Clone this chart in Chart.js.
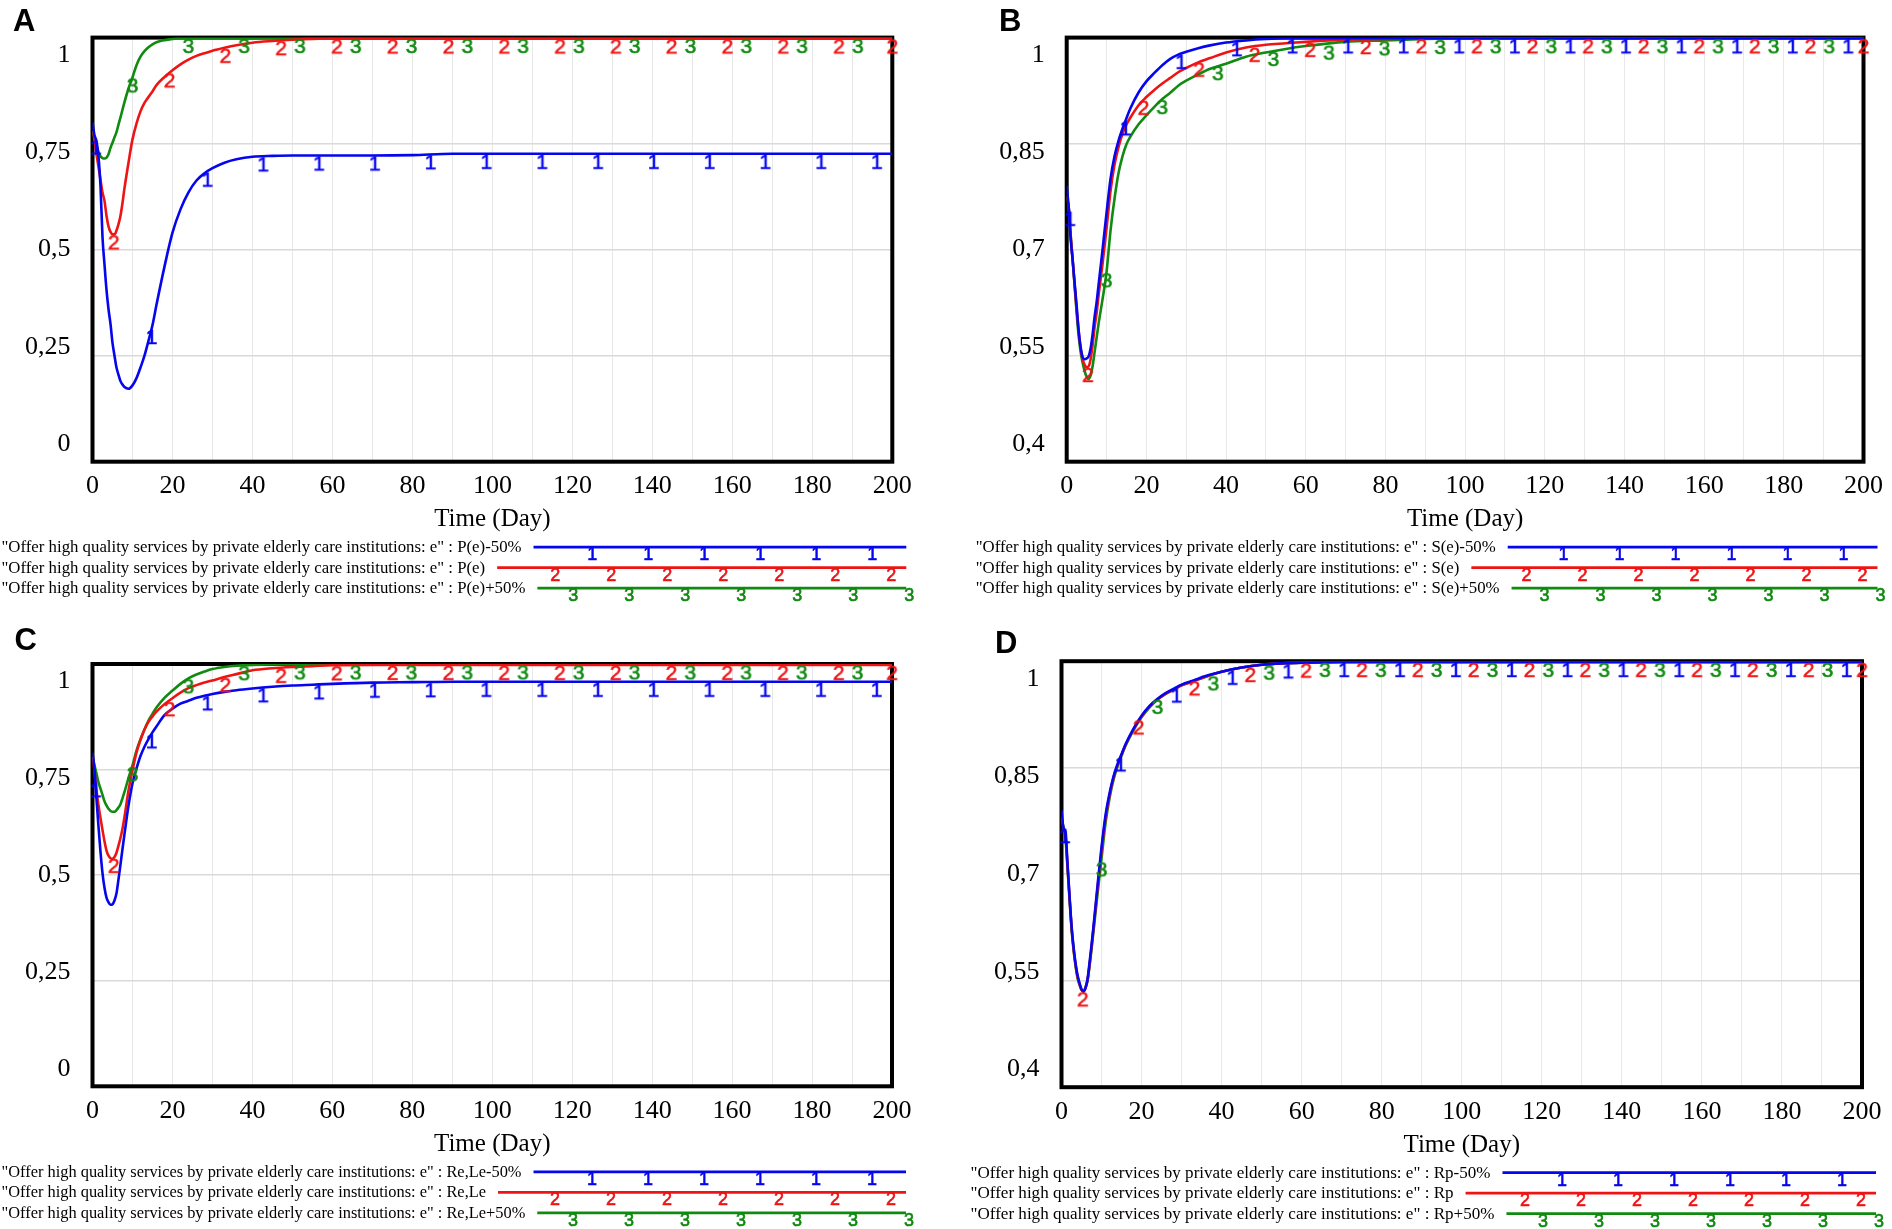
<!DOCTYPE html>
<html>
<head>
<meta charset="utf-8">
<script src="https://cdn.jsdelivr.net/npm/chart.js@4.4.1/dist/chart.umd.min.js"></script>
<style>
html,body{margin:0;padding:0;background:#fff;}
#wrap{position:relative;width:1892px;height:1229px;overflow:hidden;background:#fff;}
canvas{position:absolute;display:block;}
</style>
</head>
<body>
<div id="wrap">
<canvas id="cA" width="946" height="614" style="left:0;top:0"></canvas>
<canvas id="cB" width="946" height="614" style="left:946px;top:0"></canvas>
<canvas id="cC" width="946" height="615" style="left:0;top:614px"></canvas>
<canvas id="cD" width="946" height="615" style="left:946px;top:614px"></canvas>
</div>
<script>
// ---------- data ----------
const T = [0,0.5,1,1.5,2,2.5,3,3.5,4,4.5,5,5.5,6,6.5,7,7.5,8,9,10,11,12,13,14,15,16,18,20,22,24,26,28,30,33,36,40,45,50,55,60,70,80,90,100,120,140,160,180,200];

const aMinus = [0.80,0.77,0.755,0.72,0.65,0.53,0.465,0.405,0.36,0.325,0.28,0.25,0.222,0.205,0.19,0.182,0.176,
  0.172,0.18,0.197,0.222,0.25,0.285,0.322,0.37,
  0.46,0.54,0.595,0.635,0.663,0.68,0.692,
  0.705,0.713,0.719,0.721,0.722,0.722,0.722,
  0.722,0.723,0.726,0.726,0.726,0.726,0.726,0.726,0.726];
const aBase = [0.78,0.76,0.725,0.695,0.665,0.635,0.615,0.58,0.555,0.542,0.536,0.536,0.545,0.56,0.58,0.61,0.645,
  0.705,0.76,0.797,0.826,0.846,0.86,0.873,0.888,
  0.907,0.923,0.937,0.948,0.957,0.963,0.969,
  0.976,0.982,0.988,0.992,0.995,0.997,0.998,
  0.998,0.998,0.998,0.998,0.998,0.998,0.998,0.998,0.998];
const aPlus = [0.78,0.76,0.745,0.73,0.72,0.716,0.715,0.717,0.725,0.74,0.752,0.765,0.777,0.795,0.812,0.83,0.848,
  0.88,0.906,0.935,0.955,0.968,0.977,0.984,0.989,
  0.994,0.997,0.999,0.999,0.999,0.999,0.999,
  0.999,0.999,0.999,0.999,0.999,0.999,0.999,
  0.999,0.999,0.999,0.999,0.999,0.999,0.999,0.999,0.999];

const bMinus = [0.79,0.76,0.715,0.685,0.652,0.62,0.585,0.562,0.548,0.545,0.546,0.549,0.56,0.58,0.605,0.625,0.65,
  0.70,0.752,0.80,0.832,0.854,0.871,0.886,0.90,
  0.922,0.938,0.95,0.961,0.97,0.976,0.98,
  0.985,0.989,0.993,0.996,0.998,0.999,0.999,
  0.999,0.999,0.999,0.999,0.999,0.999,0.999,0.999,0.999];
const bBase = [0.775,0.76,0.72,0.685,0.65,0.615,0.585,0.56,0.545,0.537,0.534,0.535,0.545,0.565,0.59,0.61,0.635,
  0.68,0.73,0.783,0.82,0.845,0.864,0.877,0.887,
  0.904,0.916,0.926,0.935,0.943,0.951,0.957,
  0.965,0.971,0.979,0.986,0.99,0.992,0.994,
  0.997,0.998,0.999,0.999,0.999,0.999,0.999,0.999,0.999];
const bPlus = [0.775,0.76,0.72,0.685,0.648,0.61,0.578,0.555,0.54,0.528,0.52,0.517,0.522,0.535,0.555,0.575,0.595,
  0.63,0.668,0.727,0.772,0.808,0.832,0.849,0.86,
  0.877,0.89,0.902,0.913,0.922,0.932,0.939,
  0.948,0.956,0.963,0.973,0.979,0.984,0.988,
  0.994,0.996,0.998,0.999,0.999,0.999,0.999,0.999,0.999];

const cMinus = [0.79,0.75,0.68,0.615,0.555,0.505,0.47,0.447,0.436,0.43,0.431,0.44,0.457,0.49,0.525,0.562,0.597,
  0.664,0.717,0.752,0.782,0.804,0.822,0.838,0.852,
  0.879,0.894,0.906,0.913,0.92,0.925,0.929,
  0.934,0.938,0.942,0.946,0.949,0.951,0.953,
  0.956,0.957,0.958,0.958,0.958,0.958,0.958,0.958,0.958];
const cBase = [0.78,0.745,0.70,0.665,0.635,0.607,0.58,0.558,0.546,0.54,0.539,0.543,0.553,0.57,0.588,0.61,0.638,
  0.70,0.748,0.79,0.82,0.845,0.863,0.876,0.887,
  0.905,0.919,0.932,0.943,0.95,0.956,0.961,
  0.969,0.976,0.985,0.99,0.993,0.995,0.997,
  0.998,0.998,0.998,0.998,0.998,0.998,0.998,0.998,0.998];
const cPlus = [0.78,0.76,0.74,0.72,0.705,0.69,0.675,0.665,0.657,0.652,0.65,0.65,0.654,0.66,0.668,0.682,0.697,
  0.73,0.76,0.795,0.822,0.845,0.866,0.882,0.897,
  0.92,0.937,0.953,0.966,0.975,0.982,0.988,
  0.993,0.996,0.998,0.999,0.999,0.999,0.999,
  0.999,0.999,0.999,0.999,0.999,0.999,0.999,0.999,0.999];

const dMinus = [0.79,0.765,0.76,0.715,0.67,0.628,0.598,0.575,0.558,0.547,0.538,0.535,0.54,0.552,0.575,0.60,0.627,
  0.684,0.738,0.783,0.814,0.838,0.855,0.869,0.883,
  0.905,0.923,0.937,0.947,0.955,0.961,0.967,
  0.973,0.979,0.985,0.991,0.995,0.997,0.998,
  0.999,0.999,0.999,0.999,0.999,0.999,0.999,0.999,0.999];
const dBase = [0.78,0.765,0.755,0.712,0.668,0.626,0.596,0.573,0.556,0.545,0.537,0.535,0.54,0.551,0.572,0.597,0.624,
  0.68,0.733,0.779,0.811,0.836,0.854,0.868,0.882,
  0.904,0.922,0.936,0.946,0.954,0.96,0.966,
  0.972,0.978,0.985,0.991,0.995,0.997,0.998,
  0.999,0.999,0.999,0.999,0.999,0.999,0.999,0.999,0.999];
const dPlus = [0.78,0.765,0.75,0.71,0.665,0.624,0.594,0.571,0.554,0.544,0.537,0.535,0.54,0.55,0.57,0.594,0.62,
  0.672,0.722,0.772,0.807,0.833,0.852,0.867,0.881,
  0.903,0.921,0.935,0.946,0.954,0.96,0.966,
  0.972,0.978,0.985,0.991,0.995,0.997,0.998,
  0.999,0.999,0.999,0.999,0.999,0.999,0.999,0.999,0.999];

// marker ("1", "2", "3") positions along each run
const minusMarkT = [0.8,14.75,28.7,42.65,56.6,70.55,84.5,98.45,112.4,126.35,140.3,154.25,168.2,182.15,196.1];
const baseMarkT  = [5.3,19.25,33.2,47.15,61.1,75.05,89,102.95,116.9,130.85,144.8,158.75,172.7,186.65,200];
const plusMarkT  = [10,23.95,37.9,51.85,65.8,79.75,93.7,107.65,121.6,135.55,149.5,163.45,177.4,191.35];

const aMinusMark = [0.76,0.313,0.684,0.72,0.722,0.722,0.725,0.726,0.726,0.726,0.726,0.726,0.726,0.726,0.726];
const aBaseMark  = [0.536,0.918,0.976,0.994,0.998,0.998,0.998,0.998,0.998,0.998,0.998,0.998,0.998,0.998,0.998];
const aPlusMark  = [0.906,0.999,0.999,0.999,0.999,0.999,0.999,0.999,0.999,0.999,0.999,0.999,0.999,0.999];

const bMinusMark = [0.755,0.883,0.977,0.995,0.999,0.999,0.999,0.999,0.999,0.999,0.999,0.999,0.999,0.999,0.999];
const bBaseMark  = [0.534,0.912,0.966,0.987,0.994,0.998,0.999,0.999,0.999,0.999,0.999,0.999,0.999,0.999,0.999];
const bPlusMark  = [0.668,0.913,0.961,0.981,0.99,0.996,0.998,0.999,0.999,0.999,0.999,0.999,0.999,0.999];

const cMinusMark = [0.72,0.836,0.926,0.945,0.952,0.956,0.957,0.958,0.958,0.958,0.958,0.958,0.958,0.958,0.958];
const cBaseMark  = [0.541,0.912,0.969,0.991,0.997,0.998,0.998,0.998,0.998,0.998,0.998,0.998,0.998,0.998,0.998];
const cPlusMark  = [0.758,0.966,0.997,0.999,0.999,0.999,0.999,0.999,0.999,0.999,0.999,0.999,0.999,0.999];

const dMinusMark = [0.765,0.866,0.963,0.988,0.997,0.999,0.999,0.999,0.999,0.999,0.999,0.999,0.999,0.999,0.999];
const dBaseMark  = [0.535,0.918,0.973,0.992,0.998,0.999,0.999,0.999,0.999,0.999,0.999,0.999,0.999,0.999,0.999];
const dPlusMark  = [0.718,0.947,0.98,0.995,0.999,0.999,0.999,0.999,0.999,0.999,0.999,0.999,0.999,0.999];

const legendPrefix = '"Offer high quality services by private elderly care institutions: e" : ';
const aNames = ['P(e)-50%','P(e)','P(e)+50%'];
const bNames = ['S(e)-50%','S(e)','S(e)+50%'];
const cNames = ['Re,Le-50%','Re,Le','Re,Le+50%'];
const dNames = ['Rp-50%','Rp','Rp+50%'];
const markGlyphs = ['1','2','3'];

const xGrid = [0,10,20,30,40,50,60,70,80,90,100,110,120,130,140,150,160,170,180,190,200];
const xTickLabels = [0,20,40,60,80,100,120,140,160,180,200];
const yTicksAC = [0,0.25,0.5,0.75,1];
const yTicksBD = [0.4,0.55,0.7,0.85,1];
const xTitle = 'Time (Day)';

// ---------- styling ----------
const COLORS = ['#0505ee','#ee1414','#108a10'];

function glyphCanvas(ch, color, size) {
  const c = document.createElement('canvas');
  c.width = Math.ceil(size * 0.8);
  c.height = Math.ceil(size * 2);
  const g = c.getContext('2d');
  g.font = size + 'px "Liberation Sans"';
  g.fillStyle = color;
  g.strokeStyle = color;
  g.lineWidth = 0.6;
  g.textAlign = 'center';
  g.textBaseline = 'alphabetic';
  g.fillText(ch, c.width / 2, c.height / 2 + size * 0.72);
  g.strokeText(ch, c.width / 2, c.height / 2 + size * 0.72);
  return c;
}
const plotGlyphs = markGlyphs.map((ch, i) => glyphCanvas(ch, COLORS[i], 21));

const framePlugin = {
  id: 'frame',
  beforeDatasetsDraw(chart) {
    const {ctx, chartArea: a} = chart;
    ctx.save();
    ctx.strokeStyle = '#000';
    ctx.lineWidth = 4;
    ctx.strokeRect(a.left, a.top, a.right - a.left, a.bottom - a.top);
    ctx.restore();
  }
};

const vensimLegend = {
  id: 'vlegend',
  afterDraw(chart, args, o) {
    const {ctx, chartArea: a} = chart;
    const ds = chart.data.datasets.slice(0, 3);
    ctx.save();
    const font = '17px "Liberation Serif"';
    ctx.font = font;
    const w0 = ctx.measureText(ds[0].label).width;
    const sx = o.firstWidth / w0;
    const end = a.right + o.endGap;
    ds.forEach((d, i) => {
      const base = a.bottom + o.base + i * o.step;
      const x0 = a.left + o.textLeft;
      ctx.font = font;
      ctx.fillStyle = '#000';
      ctx.textAlign = 'left';
      ctx.textBaseline = 'alphabetic';
      ctx.save();
      ctx.translate(x0, base);
      ctx.scale(sx, 1);
      ctx.fillText(d.label, 0, 0);
      ctx.restore();
      const tw = ctx.measureText(d.label).width * sx;
      const ls = x0 + tw + o.gap;
      const ly = base - 5;
      ctx.strokeStyle = d.borderColor;
      ctx.lineWidth = 2.8;
      ctx.beginPath();
      ctx.moveTo(ls, ly);
      ctx.lineTo(end, ly);
      ctx.stroke();
      ctx.font = '18px "Liberation Sans"';
      ctx.fillStyle = d.borderColor;
      ctx.strokeStyle = d.borderColor;
      ctx.lineWidth = 0.6;
      ctx.textAlign = 'center';
      for (let gx = end + o.glyphOff[i]; gx >= ls + 20; gx -= o.glyphStep) {
        ctx.fillText(markGlyphs[i], gx, ly + 13);
        ctx.strokeText(markGlyphs[i], gx, ly + 13);
      }
    });
    ctx.restore();
  }
};

function build(id, letter, names, series, marks, yTicks, g) {
  const lo = yTicks[0], hi = yTicks[yTicks.length - 1];
  const m = 0.045 * (hi - lo);
  const markT = [minusMarkT, baseMarkT, plusMarkT];
  const datasets = [];
  series.forEach((vals, i) => datasets.push({
    label: legendPrefix + names[i],
    data: T.map((t, j) => ({x: t, y: vals[j]})),
    borderColor: COLORS[i],
    backgroundColor: COLORS[i],
    borderWidth: 2.6,
    pointRadius: 0,
    cubicInterpolationMode: 'monotone',
    fill: false,
    order: 1,
    yAxisID: 'y'
  }));
  marks.forEach((vals, i) => datasets.push({
    label: 'marker ' + markGlyphs[i],
    data: markT[i].map((t, j) => ({x: t, y: vals[j]})),
    showLine: false,
    pointStyle: plotGlyphs[i],
    pointRadius: 2,
    borderColor: COLORS[i],
    backgroundColor: COLORS[i],
    clip: false,
    order: 0,
    yAxisID: 'y'
  }));
  return new Chart(document.getElementById(id), {
    type: 'line',
    data: {datasets},
    plugins: [framePlugin, vensimLegend],
    options: {
      responsive: false,
      animation: false,
      events: [],
      layout: {padding: {left: g.padL, top: g.padT, right: g.padR, bottom: g.padB}},
      plugins: {
        legend: {display: false},
        tooltip: {enabled: false},
        title: {
          display: true, text: letter, align: 'start', color: '#000',
          font: {family: 'Liberation Sans', size: 31, weight: 'bold', lineHeight: 1},
          padding: {top: 0, bottom: g.titlePadB}
        },
        vlegend: {textLeft: -91, base: 90.5, step: 20.5, gap: 12, endGap: 14,
                  firstWidth: 520, glyphOff: [-34, -15, 3], glyphStep: 56}
      },
      scales: {
        x: {
          type: 'linear', min: 0, max: 200,
          afterBuildTicks: s => { s.ticks = xGrid.map(v => ({value: v})); },
          ticks: {
            autoSkip: false, maxRotation: 0, padding: 9, color: '#000',
            font: {family: 'Liberation Serif', size: 26},
            callback: v => xTickLabels.includes(v) ? String(v) : ''
          },
          grid: {color: '#e8e8e8', lineWidth: 1, drawTicks: false},
          border: {display: false},
          title: {display: true, text: xTitle, color: '#000',
                  font: {family: 'Liberation Serif', size: 25}, padding: {top: 0, bottom: 2}},
          afterFit: s => { s.height = 75; }
        },
        y: {
          type: 'linear', min: lo, max: hi, position: 'left', weight: 0,
          afterBuildTicks: s => { s.ticks = yTicks.map(v => ({value: v})); },
          ticks: {display: false},
          grid: {color: '#d9d9d9', lineWidth: 1.6, drawTicks: false},
          border: {display: false},
          afterFit: s => { s.width = 0; }
        },
        y2: {
          type: 'linear', min: lo - m, max: hi + m, position: 'left', weight: 1,
          afterBuildTicks: s => { s.ticks = yTicks.map(v => ({value: v})); },
          ticks: {padding: 22, color: '#000', font: {family: 'Liberation Serif', size: 26},
                  callback: v => String(v).replace('.', ',')},
          grid: {display: false, drawTicks: false},
          border: {display: false},
          afterFit: s => { s.width = g.y2W; }
        }
      }
    }
  });
}

build('cA', 'A', aNames, [aMinus, aBase, aPlus], [aMinusMark, aBaseMark, aPlusMark], yTicksAC,
  {padL: 13, padT: 4, padR: 53.7, padB: 77.3, titlePadB: 0, y2W: 79.5});
build('cB', 'B', bNames, [bMinus, bBase, bPlus], [bMinusMark, bBaseMark, bPlusMark], yTicksBD,
  {padL: 53, padT: 4, padR: 25.3, padB: 77.3, titlePadB: 0, y2W: 67.7});
build('cC', 'C', cNames, [cMinus, cBase, cPlus], [cMinusMark, cBaseMark, cPlusMark], yTicksAC,
  {padL: 14.5, padT: 11.5, padR: 54, padB: 67.7, titlePadB: 7.5, y2W: 78});
build('cD', 'D', dNames, [dMinus, dBase, dPlus], [dMinusMark, dBaseMark, dPlusMark], yTicksBD,
  {padL: 49, padT: 14.5, padR: 30, padB: 66.8, titlePadB: 1.7, y2W: 66.5});
</script>
</body>
</html>
